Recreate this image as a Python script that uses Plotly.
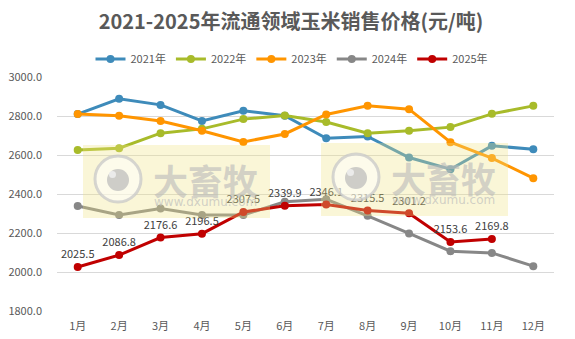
import plotly.graph_objects as go

months = ["1月", "2月", "3月", "4月", "5月", "6月", "7月", "8月", "9月", "10月", "11月", "12月"]

price_2021 = [2810, 2888, 2857, 2775, 2827, 2801, 2686, 2695, 2587, 2527, 2647, 2630]
price_2022 = [2626, 2635, 2712, 2734, 2784, 2803, 2769, 2712, 2724, 2743, 2811, 2852]
price_2023 = [2810, 2801, 2774, 2724, 2667, 2708, 2808, 2852, 2835, 2666, 2584, 2481]
price_2024 = [2338, 2292, 2326, 2292, 2292, 2360, 2373, 2288, 2198, 2107, 2098, 2030]
price_2025 = [2025.5, 2086.8, 2176.6, 2196.5, 2307.5, 2339.9, 2346.1, 2315.5, 2301.2, 2153.6, 2169.8]

series = [
    ("2021年", price_2021, "#3E8BBA"),
    ("2022年", price_2022, "#A8BB2A"),
    ("2023年", price_2023, "#FF9500"),
    ("2024年", price_2024, "#878787"),
    ("2025年", price_2025, "#C00000"),
]

FONT = "Noto Sans CJK SC"

fig = go.Figure()
for name, vals, color in series:
    is_latest = name == "2025年"
    fig.add_trace(go.Scatter(
        x=months[:len(vals)], y=vals, name=name,
        mode="lines+markers+text" if is_latest else "lines+markers",
        line=dict(color=color, width=3),
        marker=dict(color=color, size=8),
        text=[f"{v:.1f}" for v in vals] if is_latest else None,
        textposition="top center",
        textfont=dict(size=11, color="#404040", family=FONT),
        cliponaxis=False,
    ))

# plot area in pixels: x 57..554, y 77..311
L, R, T, B = 57, 554, 77, 311
def px(x):
    return (x - L) / (R - L)
def py(y):
    return (B - y) / (B - T)

# semi-transparent site watermark (two copies)
shapes = []
annotations = []
for dx, dy in [(0, 0), (238, -2)]:
    shapes.append(dict(type="rect", xref="paper", yref="paper", layer="above",
                       x0=px(83 + dx), x1=px(270 + dx), y0=py(218 + dy), y1=py(145 + dy),
                       fillcolor="rgba(240,228,130,0.32)", line=dict(width=0)))
    cx, cy = 118 + dx, 179 + dy
    shapes.append(dict(type="circle", xref="paper", yref="paper", layer="above",
                       x0=px(cx - 23), x1=px(cx + 23), y0=py(cy + 23), y1=py(cy - 23),
                       fillcolor="rgba(255,255,255,0.5)",
                       line=dict(color="rgba(200,200,200,0.75)", width=3)))
    shapes.append(dict(type="circle", xref="paper", yref="paper", layer="above",
                       x0=px(cx - 11), x1=px(cx + 11), y0=py(cy + 12), y1=py(cy - 10),
                       fillcolor="rgba(185,185,185,0.7)", line=dict(width=0)))
    shapes.append(dict(type="circle", xref="paper", yref="paper", layer="above",
                       x0=px(cx - 9), x1=px(cx - 2), y0=py(cy - 1), y1=py(cy - 8),
                       fillcolor="rgba(240,240,240,0.85)", line=dict(width=0)))
    annotations.append(dict(text="<b>大畜牧</b>", xref="paper", yref="paper",
                            x=px(205 + dx), y=py(179 + dy), xanchor="center", yanchor="middle",
                            showarrow=False,
                            font=dict(size=35, color="rgba(185,185,185,0.6)", family=FONT)))
    annotations.append(dict(text="www.dxumu.com", xref="paper", yref="paper",
                            x=px(205 + dx), y=py(202 + dy), xanchor="center", yanchor="middle",
                            showarrow=False,
                            font=dict(size=12, color="rgba(185,185,185,0.65)", family="DejaVu Sans")))

fig.update_layout(
    width=575, height=339,
    margin=dict(l=L, r=575 - R, t=T, b=339 - B),
    paper_bgcolor="white", plot_bgcolor="white",
    font=dict(family=FONT, size=11, color="#595959"),
    title=dict(text="<b>2021-2025年流通领域玉米销售价格(元/吨)</b>",
               x=291 / 575, xanchor="center", y=1 - 22 / 339, yanchor="middle",
               font=dict(size=20, color="#595959", family=FONT)),
    legend=dict(orientation="h", x=px(292), xanchor="center", y=1 + 18 / (B - T), yanchor="middle",
                font=dict(size=11, color="#595959", family=FONT), itemwidth=30,
                tracegroupgap=0, bgcolor="rgba(0,0,0,0)"),
    xaxis=dict(type="category", categoryorder="array", categoryarray=months,
               range=[-0.5, 11.5], showgrid=False, showline=False, ticks="",
               ticklabelstandoff=7, automargin=False,
               tickfont=dict(size=11, color="#595959")),
    yaxis=dict(range=[1800, 3000], dtick=200, tickformat=".1f",
               showgrid=True, gridcolor="#D9D9D9", gridwidth=1,
               zeroline=False, showline=False, ticks="",
               ticklabelstandoff=14, automargin=False,
               tickfont=dict(size=11, color="#595959")),
    shapes=shapes, annotations=annotations,
)

fig.write_html("out.html")
